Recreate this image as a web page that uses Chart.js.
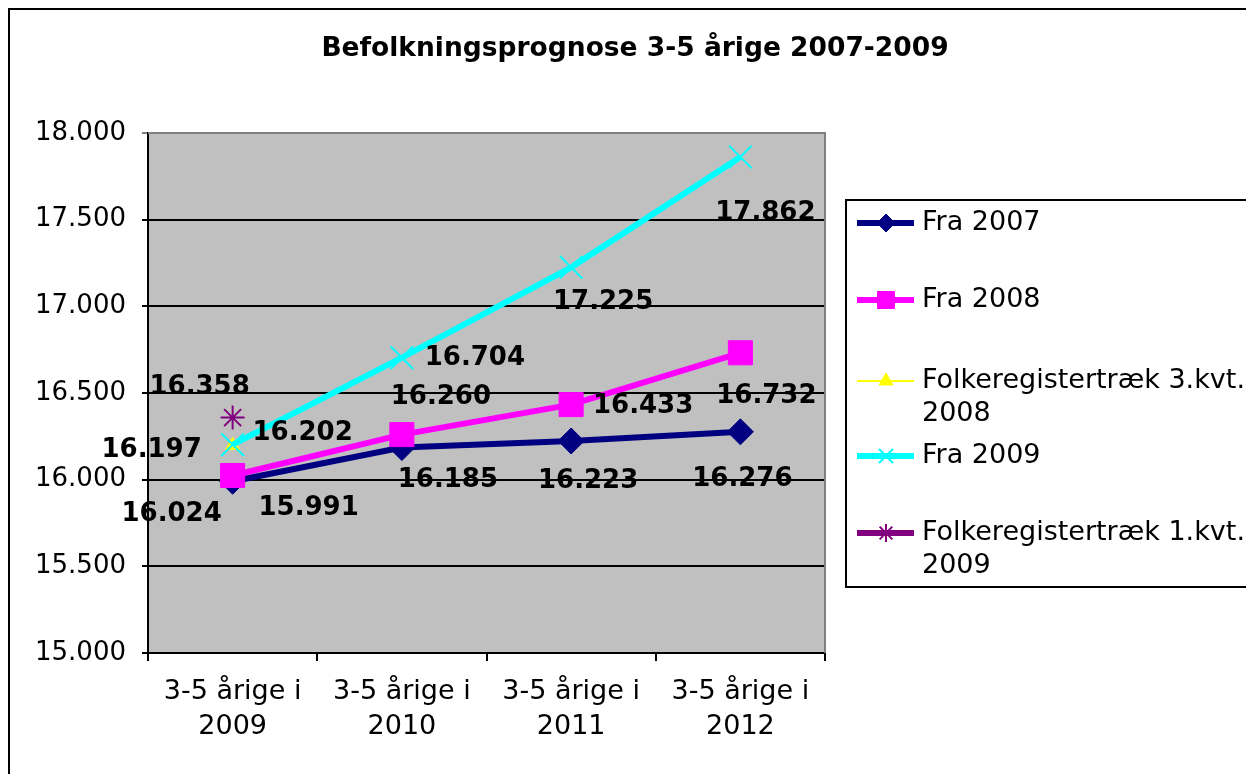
<!DOCTYPE html>
<html>
<head>
<meta charset="utf-8">
<script src="https://cdn.jsdelivr.net/npm/chart.js@4.4.1/dist/chart.umd.min.js"></script>
<style>
  html, body { margin: 0; padding: 0; background: #fff; }
  #wrap { width: 1246px; height: 774px; position: relative; }
</style>
</head>
<body>
<div id="wrap"><canvas id="chart" width="1246" height="774"></canvas></div>
<script>
// ── Data ─────────────────────────────────────────────────────────────────
const chartTitle = 'Befolkningsprognose 3-5 årige 2007-2009';
const categories = [
  ['3-5 årige i', '2009'],
  ['3-5 årige i', '2010'],
  ['3-5 årige i', '2011'],
  ['3-5 årige i', '2012'],
];
const seriesNames = [
  'Fra 2007',
  'Fra 2008',
  'Folkeregistertræk 3.kvt. 2008',
  'Fra 2009',
  'Folkeregistertræk 1.kvt. 2009',
];
const fra2007 = [15991, 16185, 16223, 16276];
const fra2008 = [16024, 16260, 16433, 16732];
const folk3kvt2008 = [16197, null, null, null];
const fra2009 = [16202, 16704, 17225, 17862];
const folk1kvt2009 = [16358, null, null, null];
const yMin = 15000, yMax = 18000, yStep = 500;

// label nudges (px) per point, like hand-placed Excel data labels
const labelNudge = [
  [[76, 27], [46, 33], [17, 40], [2, 47]],
  [[-61, 39], [39, -37], [72, 2], [26, 43]],
  [[-81, 5]],
  [[70, -11], [73, 1], [32, 35], [25, 56]],
  [[-33, -30]],
];

const FONT = "'DejaVu Sans', Verdana, sans-serif";

function fmtDa(v) {
  return String(Math.round(v)).replace(/\B(?=(\d{3})+(?!\d))/g, '.');
}

// ── Plugins ──────────────────────────────────────────────────────────────
const frame = {
  id: 'frame',
  beforeDraw(chart) {
    const { ctx, chartArea: a } = chart;
    ctx.save();
    ctx.fillStyle = '#fff';
    ctx.fillRect(0, 0, chart.width, chart.height);
    ctx.strokeStyle = '#000';
    ctx.lineWidth = 2;
    ctx.strokeRect(9, 9, chart.width + 10, chart.height + 10);
    ctx.fillStyle = '#C0C0C0';
    ctx.fillRect(a.left, a.top, a.right - a.left, a.bottom - a.top);
    // title
    ctx.fillStyle = '#000';
    ctx.font = 'bold 26.5px ' + FONT;
    ctx.textAlign = 'center';
    ctx.textBaseline = 'middle';
    ctx.fillText(chartTitle, 635, 49);
    ctx.restore();
  },
  beforeDatasetsDraw(chart) {
    const { ctx, chartArea: a } = chart;
    ctx.save();
    ctx.strokeStyle = '#808080';
    ctx.lineWidth = 2;
    ctx.beginPath();
    ctx.moveTo(a.left, a.top);
    ctx.lineTo(a.right, a.top);
    ctx.lineTo(a.right, a.bottom);
    ctx.stroke();
    ctx.restore();
  },
};

const dataLabels = {
  id: 'dataLabels',
  afterDatasetsDraw(chart) {
    const { ctx } = chart;
    ctx.save();
    ctx.font = 'bold 26px ' + FONT;
    ctx.fillStyle = '#000';
    ctx.textAlign = 'center';
    ctx.textBaseline = 'middle';
    chart.data.datasets.forEach((ds, i) => {
      const meta = chart.getDatasetMeta(i);
      meta.data.forEach((pt, j) => {
        const v = ds.data[j];
        if (v == null) return;
        const n = (labelNudge[i] && labelNudge[i][j]) || [0, -20];
        ctx.fillText(fmtDa(v), pt.x + n[0], pt.y + n[1]);
      });
    });
    ctx.restore();
  },
};

const sideLegend = {
  id: 'sideLegend',
  afterDraw(chart) {
    const { ctx } = chart;
    const rows = [223, 300, 381, 456, 533];
    ctx.save();
    ctx.strokeStyle = '#000';
    ctx.lineWidth = 2;
    ctx.strokeRect(846, 200, 420, 387);
    ctx.font = '27px ' + FONT;
    ctx.textBaseline = 'middle';
    ctx.textAlign = 'left';
    chart.data.datasets.forEach((ds, i) => {
      const y = rows[i];
      ctx.strokeStyle = ds.borderColor;
      ctx.lineWidth = ds.borderWidth;
      ctx.beginPath();
      ctx.moveTo(857, y);
      ctx.lineTo(914, y);
      ctx.stroke();
      ctx.fillStyle = ds.pointBackgroundColor;
      ctx.strokeStyle = ds.pointBorderColor;
      ctx.lineWidth = ds.pointBorderWidth;
      Chart.helpers.drawPoint(ctx, {
        pointStyle: ds.pointStyle,
        radius: ds.legendRadius,
        borderWidth: ds.pointBorderWidth,
        rotation: 0,
      }, 886, y);
      ctx.fillStyle = '#000';
      const name = ds.label;
      const m = name.match(/^(.*kvt\.) (\d{4})$/);
      if (m) {
        ctx.fillText(m[1], 922, y);
        ctx.fillText(m[2], 922, y + 33);
      } else {
        ctx.fillText(name, 922, y);
      }
    });
    ctx.restore();
  },
};

// ── Chart ────────────────────────────────────────────────────────────────
const ctx = document.getElementById('chart').getContext('2d');

new Chart(ctx, {
  type: 'line',
  data: {
    labels: categories,
    datasets: [
      {
        label: seriesNames[0], data: fra2007, order: 5,
        borderColor: '#000080', borderWidth: 6,
        pointStyle: 'rectRot', pointRadius: 13, legendRadius: 9,
        pointBackgroundColor: '#000080', pointBorderColor: '#000080', pointBorderWidth: 1,
      },
      {
        label: seriesNames[1], data: fra2008, order: 4,
        borderColor: '#FF00FF', borderWidth: 6,
        pointStyle: 'rect', pointRadius: 17, legendRadius: 12,
        pointBackgroundColor: '#FF00FF', pointBorderColor: '#FF00FF', pointBorderWidth: 1,
      },
      {
        label: seriesNames[2], data: folk3kvt2008, order: 3,
        borderColor: '#FFFF00', borderWidth: 2,
        pointStyle: 'triangle', pointRadius: 8, legendRadius: 8,
        pointBackgroundColor: '#FFFF00', pointBorderColor: '#FFFF00', pointBorderWidth: 1,
      },
      {
        label: seriesNames[3], data: fra2009, order: 2,
        borderColor: '#00FFFF', borderWidth: 6,
        pointStyle: 'crossRot', pointRadius: 16, legendRadius: 10,
        pointBackgroundColor: '#00FFFF', pointBorderColor: '#00FFFF', pointBorderWidth: 2,
      },
      {
        label: seriesNames[4], data: folk1kvt2009, order: 1,
        borderColor: '#800080', borderWidth: 6,
        pointStyle: 'star', pointRadius: 12, legendRadius: 9,
        pointBackgroundColor: '#800080', pointBorderColor: '#800080', pointBorderWidth: 2,
      },
    ],
  },
  options: {
    responsive: false,
    animation: false,
    layout: { padding: { left: 0, top: 133, right: 421, bottom: 0 } },
    plugins: {
      legend: { display: false },
      title: { display: false },
      tooltip: { enabled: false },
    },
    elements: { line: { tension: 0 } },
    scales: {
      x: {
        offset: true,
        grid: {
          offset: true, drawOnChartArea: false, tickLength: 8,
          color: '#000', lineWidth: 2,
        },
        border: { color: '#000', width: 2 },
        ticks: {
          color: '#000', padding: 13, maxRotation: 0, autoSkip: false,
          font: { family: FONT, size: 27, lineHeight: 1.3 },
        },
        afterFit(scale) { scale.height = 121; },
      },
      y: {
        min: yMin, max: yMax,
        grid: {
          color: ctx => (ctx.tick && ctx.tick.value === yMax ? '#808080' : '#000'),
          lineWidth: 2, tickLength: 6,
        },
        border: { color: '#000', width: 2 },
        ticks: {
          stepSize: yStep, color: '#000', padding: 16,
          font: { family: FONT, size: 26 },
          callback: v => fmtDa(v),
        },
        afterFit(scale) { scale.width = 148; },
      },
    },
  },
  plugins: [frame, dataLabels, sideLegend],
});
</script>
</body>
</html>
